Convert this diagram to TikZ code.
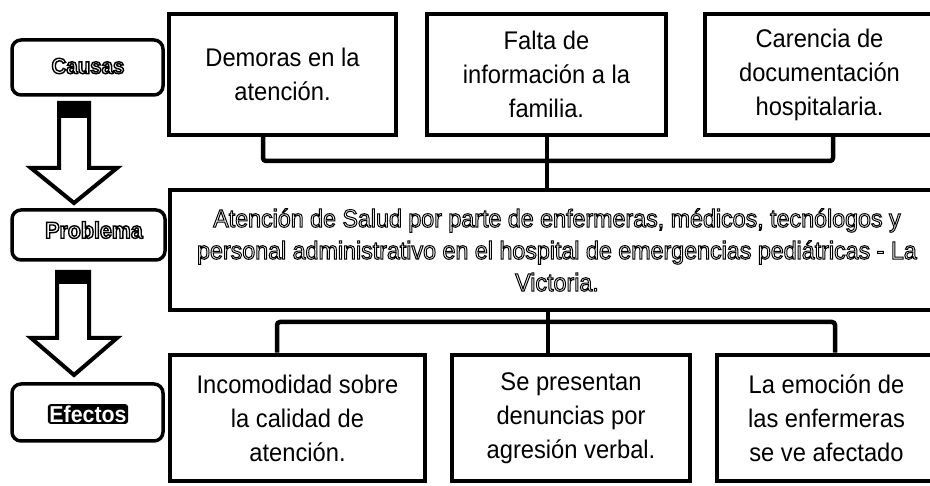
\documentclass[tikz,border=0pt]{standalone}
\usepackage{fontspec}
\setmainfont{Liberation Sans}[FakeStretch=0.93]
\newcommand{\olt}[2][0.7]{\special{pdf:literal direct #1 w 1 Tr}#2\special{pdf:literal direct 0 Tr}}
\begin{document}
\begin{tikzpicture}[x=1pt,y=-1pt,
  box/.style={draw, line width=4.5pt, fill=white, align=center, inner sep=0pt,
    font=\fontsize{25.5}{34}\selectfont},
  lbl/.style={draw, line width=3.5pt, rounded corners=9pt, inner sep=0pt},
  conn/.style={line width=4.5pt, rounded corners=3pt},
  barrow/.style={draw, line width=4pt, line join=miter, fill=white},
]
\useasboundingbox (0,0) rectangle (930,486);

% label boxes
\node[lbl, minimum width=151pt, minimum height=55pt] (causas) at (87.5,67.5) {};
\node[font=\fontsize{22}{24}\selectfont\bfseries] (causast) at (88,66) {\olt[1.4]{Causas}};
\node[lbl, minimum width=153pt, minimum height=50pt] (problema) at (88.5,235) {};
\node[font=\fontsize{23}{24}\selectfont\bfseries] (problemat) at (94,230) {\olt[1.4]{Problema}};
\node[lbl, minimum width=151pt, minimum height=57pt] (efectos) at (87.5,412.5) {};
\node[fill=black, text=white, rounded corners=3pt, inner sep=1.5pt,
  font=\fontsize{23}{24}\selectfont\bfseries] (efectost) at (88,414) {Efectos};

% block arrows
\draw[barrow] (59,103) -- (89,103) -- (89,168) -- (117,168) -- (74,203) -- (31,168) -- (59,168) -- cycle;
\fill (59,101) rectangle (89,118);
\draw[barrow] (57,272) -- (89,272) -- (89,338) -- (117,338) -- (74,375) -- (31,338) -- (57,338) -- cycle;
\fill (57,270) rectangle (89,284);

% cause boxes
\node[box, minimum width=227pt, minimum height=121pt] (c1) at (282.5,74.5) {Demoras en la\\atención.};
\node[box, minimum width=239pt, minimum height=121pt] (c2) at (546.5,74.5) {Falta de\\información a la\\familia.};
\node[box, minimum width=229pt, minimum height=121pt] (c3) at (819.5,74.5) {Carencia de\\documentación\\hospitalaria.};

% problem box
\node[box, minimum width=774pt, minimum height=120pt,
  font=\fontsize{25}{32}\selectfont] (prob) at (557,250)
  {\olt[1.0]{Atención de Salud por parte de enfermeras, médicos, tecnólogos y}\\
   \olt[1.0]{personal administrativo en el hospital de emergencias pediátricas - La}\\
   \olt[1.0]{Victoria.}};

% effect boxes
\node[box, minimum width=255pt, minimum height=126pt] (e1) at (297.5,418) {Incomodidad sobre\\la calidad de\\atención.};
\node[box, minimum width=238pt, minimum height=126pt] (e2) at (571,418) {Se presentan\\denuncias por\\agresión verbal.};
\node[box, minimum width=219pt, minimum height=126pt] (e3) at (826.5,418) {La emoción de\\las enfermeras\\se ve afectado};

% connectors
\coordinate (j1) at (263,161);
\coordinate (j3) at (833,161);
\coordinate (jm) at (547,161);
\draw[conn] (c1.south -| j1) -- (j1) -- (j3) -- (c3.south -| j3);
\draw[conn] (c2.south -| jm) -- (prob.north -| jm);
\coordinate (k1) at (277,322);
\coordinate (k3) at (835,322);
\coordinate (km) at (548,322);
\draw[conn] (e1.north -| k1) -- (k1) -- (k3) -- (e3.north -| k3);
\draw[conn] (prob.south -| km) -- (e2.north -| km);
\end{tikzpicture}
\end{document}
